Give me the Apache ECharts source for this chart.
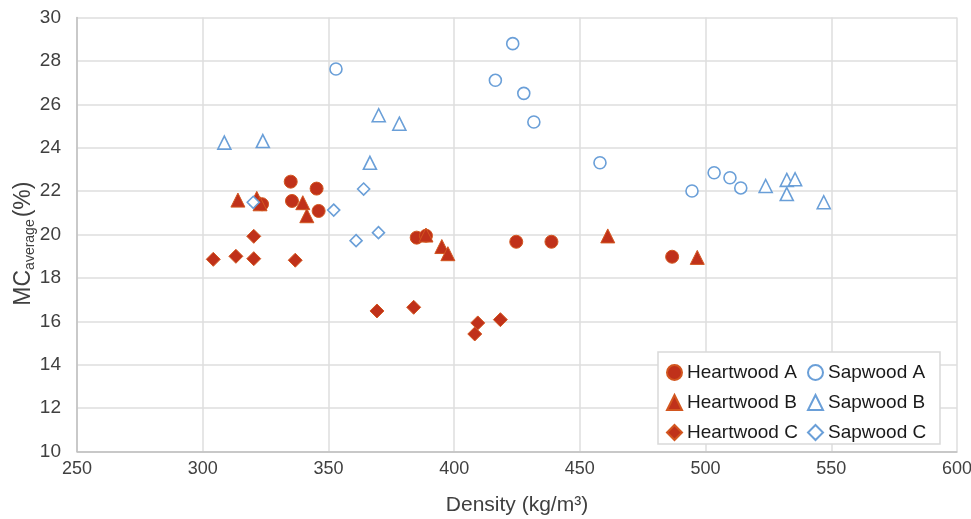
<!DOCTYPE html>
<html>
<head>
<meta charset="utf-8">
<script src="https://cdn.jsdelivr.net/npm/echarts@6/dist/echarts.min.js"></script>
<style>
  html, body { margin: 0; padding: 0; background: #fff; }
  #chart { width: 971px; height: 519px; }
</style>
</head>
<body>
<div id="chart"></div>
<script>
// density (kg/m3), MC average (%)
const heartwoodA = [[335.0, 22.44], [345.3, 22.12], [335.5, 21.55], [323.6, 21.40], [346.1, 21.09],
  [385.1, 19.86], [388.8, 19.95], [424.7, 19.67], [438.7, 19.67], [486.7, 18.98]];
const heartwoodB = [[314.0, 21.59], [321.5, 21.67], [322.8, 21.42], [339.8, 21.47], [341.4, 20.87],
  [388.8, 19.98], [395.1, 19.45], [397.5, 19.12], [461.1, 19.94], [496.7, 18.95]];
const heartwoodC = [[304.2, 18.86], [313.2, 19.0], [320.3, 19.92], [320.3, 18.89], [336.8, 18.82],
  [369.3, 16.48], [383.9, 16.65], [409.4, 15.93], [408.2, 15.42], [418.4, 16.08]];
const sapwoodA = [[353.0, 27.63], [423.3, 28.80], [416.4, 27.11], [427.7, 26.51], [431.7, 25.19],
  [458.0, 23.31], [494.6, 22.01], [503.4, 22.85], [509.7, 22.62], [514.0, 22.15]];
const sapwoodB = [[308.6, 24.24], [323.9, 24.31], [366.5, 23.31], [370.0, 25.50], [378.2, 25.11],
  [523.9, 22.24], [532.3, 22.52], [535.6, 22.55], [532.3, 21.87], [547.0, 21.49]];
const sapwoodC = [[320.1, 21.49], [352.1, 21.13], [364.0, 22.10], [361.0, 19.72], [369.9, 20.09]];

const xTicks = { min: 250, max: 600, step: 50 };
const yTicks = { min: 10, max: 30, step: 2 };

const FONT = 'Liberation Sans, Arial, sans-serif';
const RED = '#C0311A';
const RED_EDGE = '#D2561F';
const BLUE = '#6A9FD8';

const chart = echarts.init(document.getElementById('chart'));

const filled = (name, data, symbol, size) => ({
  name, type: 'scatter', data, symbol, symbolSize: size,
  itemStyle: { color: RED, borderColor: RED_EDGE, borderWidth: 1, opacity: 1 }
});
const hollow = (name, data, symbol, size) => ({
  name, type: 'scatter', data, symbol, symbolSize: size,
  itemStyle: { color: '#fff', borderColor: BLUE, borderWidth: 1.6, opacity: 1 }
});

const legendText = { fontFamily: FONT, fontSize: 19, color: '#1a1a1a' };

chart.setOption({
  animation: false,
  textStyle: { fontFamily: FONT },
  grid: { left: 77, right: 14, top: 17.6, bottom: 67.4, outerBoundsMode: 'none' },
  xAxis: {
    type: 'value', min: xTicks.min, max: xTicks.max, interval: xTicks.step,
    name: 'Density (kg/m³)', nameLocation: 'middle', nameGap: 43, nameMoveOverlap: false,
    nameTextStyle: { fontSize: 21, color: '#404040' },
    axisLine: { lineStyle: { color: '#bfbfbf', width: 1.5 } },
    axisTick: { show: false },
    axisLabel: { fontSize: 18, color: '#404040', margin: 8 },
    splitLine: { lineStyle: { color: '#dedede', width: 1.5 } }
  },
  yAxis: {
    type: 'value', min: yTicks.min, max: yTicks.max, interval: yTicks.step,
    name: '{a|MC}{b|average}{a|(%)}', nameLocation: 'middle', nameGap: 40, nameRotate: 90,
    nameMoveOverlap: false,
    nameTextStyle: {
      color: '#404040',
      padding: [0, 18, 0, 0],
      rich: {
        a: { fontSize: 23, color: '#404040', fontFamily: FONT },
        b: { fontSize: 14, color: '#404040', fontFamily: FONT, verticalAlign: 'bottom', padding: [12, 2, 0, 0] }
      }
    },
    axisLine: { show: true, lineStyle: { color: '#bfbfbf', width: 1.5 } },
    axisTick: { show: false },
    axisLabel: { fontSize: 19, color: '#404040', margin: 16 },
    splitLine: { lineStyle: { color: '#dedede', width: 1.5 } }
  },
  graphic: [{
    type: 'rect', z: 3, silent: true,
    shape: { x: 658, y: 352, width: 282, height: 92 },
    style: { fill: '#fff', stroke: '#d9d9d9', lineWidth: 1.5 }
  }],
  legend: [{
    orient: 'vertical', left: 661, top: 358, itemGap: 11,
    itemWidth: 15, itemHeight: 15,
    textStyle: legendText,
    data: ['Heartwood A', 'Heartwood B', 'Heartwood C']
  }, {
    orient: 'vertical', left: 802, top: 358, itemGap: 11,
    itemWidth: 15, itemHeight: 15,
    textStyle: legendText,
    data: ['Sapwood A', 'Sapwood B', 'Sapwood C']
  }],
  series: [
    filled('Heartwood A', heartwoodA, 'circle', 13),
    filled('Heartwood B', heartwoodB, 'triangle', 14),
    filled('Heartwood C', heartwoodC, 'diamond', 14),
    hollow('Sapwood A', sapwoodA, 'circle', 12),
    hollow('Sapwood B', sapwoodB, 'triangle', 13),
    hollow('Sapwood C', sapwoodC, 'diamond', 12)
  ]
});
</script>
</body>
</html>
